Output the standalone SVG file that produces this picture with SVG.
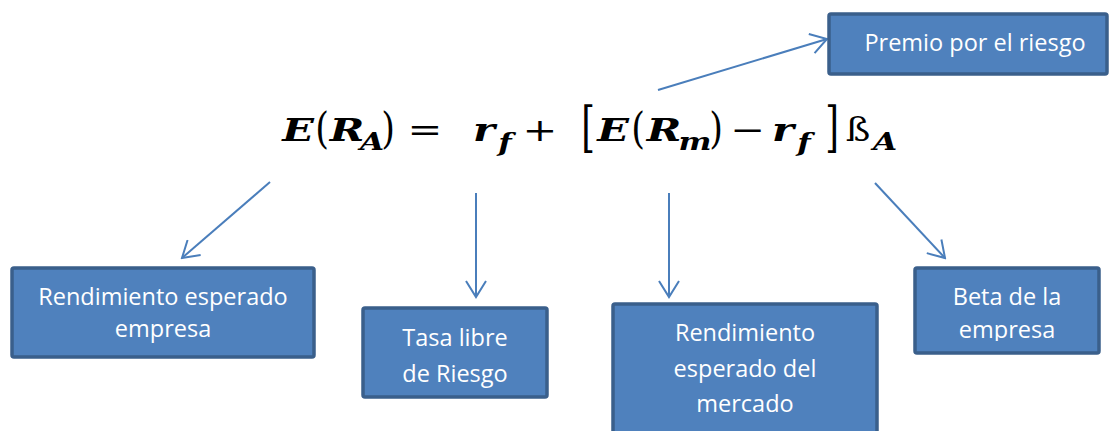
<svg xmlns="http://www.w3.org/2000/svg" width="1109" height="431" viewBox="0 0 1109 431">
<defs>
<style>
.box { fill: #4F81BD; stroke: #3A5F8B; stroke-width: 3.5; }
.lbl { font-family: "Open Sans", "Liberation Sans", sans-serif; font-size: 23.5px; fill: #FFFFFF; text-anchor: middle; }
.conn { stroke: #4A7EBB; stroke-width: 2; fill: none; marker-end: url(#arr); }
.mv { font-family: "DejaVu Serif", serif; font-weight: bold; font-style: italic; font-size: 32px; fill: #000; text-anchor: middle; }
.ms { font-family: "DejaVu Serif", serif; font-weight: bold; font-style: italic; font-size: 24px; fill: #000; text-anchor: middle; }
.mo { font-family: "DejaVu Serif", serif; font-size: 32px; fill: #000; text-anchor: middle; }
</style>
<marker id="arr" viewBox="0 -1 20 22" refX="18" refY="10" markerWidth="20" markerHeight="22" markerUnits="userSpaceOnUse" orient="auto">
<path d="M2,0 L18,10 L2,20" fill="none" stroke="#4A7EBB" stroke-width="2"/>
</marker>
<clipPath id="clipBeta"><rect x="915" y="268" width="185" height="73"/></clipPath>
</defs>
<rect width="1109" height="431" fill="#FFFFFF"/>

<g id="formula">
<text class="mv" transform="translate(298,141) scale(1.3,1)">E</text>
<text class="mo" transform="translate(322,143) scale(1.1,1.35)">(</text>
<text class="mv" transform="translate(347,141) scale(1.3,1)">R</text>
<text class="ms" transform="translate(372,150) scale(1.3,1)">A</text>
<text class="mo" transform="translate(388,143) scale(1.1,1.35)">)</text>
<text class="mo" transform="translate(425,141) scale(1.3,1)">=</text>
<text class="mv" transform="translate(484,141) scale(1.3,1)">r</text>
<text class="ms" transform="translate(505,151) scale(1.3,1)">f</text>
<text class="mo" transform="translate(540,141) scale(1.3,1)">+</text>
<text class="mo" transform="translate(588,146) scale(1.1,1.68)">[</text>
<text class="mv" transform="translate(613,141) scale(1.3,1)">E</text>
<text class="mo" transform="translate(638,143) scale(1.1,1.35)">(</text>
<text class="mv" transform="translate(664,141) scale(1.3,1)">R</text>
<text class="ms" transform="translate(695,150) scale(1.3,1)">m</text>
<text class="mo" transform="translate(716,143) scale(1.1,1.35)">)</text>
<text class="mo" transform="translate(748,141) scale(1.3,1)">−</text>
<text class="mv" transform="translate(783,141) scale(1.3,1)">r</text>
<text class="ms" transform="translate(804,151) scale(1.3,1)">f</text>
<text class="mo" transform="translate(832,146) scale(1.1,1.68)">]</text>
<text class="mo" transform="translate(858,141) scale(1.15,1.05)">ß</text>
<text class="ms" transform="translate(885,150) scale(1.3,1)">A</text>
</g>

<g id="connectors">
<line class="conn" x1="270" y1="182" x2="182" y2="258"/>
<line class="conn" x1="476" y1="193" x2="476" y2="297"/>
<line class="conn" x1="669" y1="193" x2="669" y2="297"/>
<line class="conn" x1="875" y1="183" x2="945" y2="258"/>
<line class="conn" x1="658" y1="90" x2="827" y2="39"/>
</g>

<g id="node-premio">
<rect class="box" x="829" y="14" width="278" height="60" rx="2"/>
<text class="lbl" x="975" y="51">Premio por el riesgo</text>
</g>

<g id="node-rendimiento-empresa">
<rect class="box" x="12" y="268" width="302" height="89" rx="2"/>
<text class="lbl" x="163" y="305">Rendimiento esperado</text>
<text class="lbl" x="163" y="337">empresa</text>
</g>

<g id="node-tasa-libre">
<rect class="box" x="363" y="308" width="184" height="89" rx="2"/>
<text class="lbl" x="455" y="346">Tasa libre</text>
<text class="lbl" x="455" y="382">de Riesgo</text>
</g>

<g id="node-rendimiento-mercado">
<rect class="box" x="613" y="304" width="264" height="135" rx="2"/>
<text class="lbl" x="745" y="341">Rendimiento</text>
<text class="lbl" x="745" y="377">esperado del</text>
<text class="lbl" x="745" y="412">mercado</text>
</g>

<g id="node-beta">
<rect class="box" x="915" y="268" width="184" height="85" rx="2"/>
<g clip-path="url(#clipBeta)">
<text class="lbl" x="1007" y="305">Beta de la</text>
<text class="lbl" x="1007" y="338">empresa</text>
</g>
</g>
</svg>
